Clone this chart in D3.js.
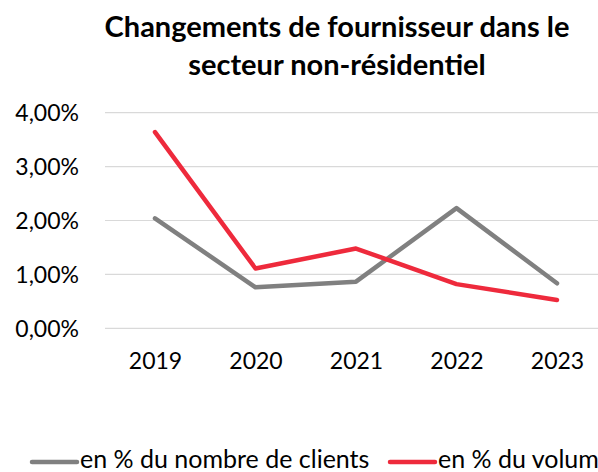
<!DOCTYPE html>
<html>
<head>
<meta charset="utf-8">
<script src="https://cdn.jsdelivr.net/npm/d3@7"></script>
<style>
  body { margin: 0; background: #fff; }
  svg { display: block; font-family: Lato, "Open Sans", sans-serif; }
</style>
</head>
<body>
<script>
// Data
var years = ["2019", "2020", "2021", "2022", "2023"];
var clients = [0.0204, 0.0076, 0.00865, 0.0223, 0.00835];
var volume = [0.0364, 0.0111, 0.0148, 0.0082, 0.00525];
var yTicks = [0, 0.01, 0.02, 0.03, 0.04];
var seriesNames = ["en % du nombre de clients", "en % du volume"];
var colors = ["#808080", "#ee2a3c"];

var width = 598, height = 472;

var svg = d3.select("body")
    .append("svg")
    .attr("width", width)
    .attr("height", height);

// scales
var xScale = d3.scalePoint()
    .domain(years)
    .range([155, 557]);

var yScale = d3.scaleLinear()
    .domain([0, 0.04])
    .range([328.3, 112.7]);

var fmt = function(d) { return d3.format(".2f")(d * 100).replace(".", ",") + "%"; };

// title
svg.append("text")
    .attr("x", 337)
    .attr("y", 37)
    .attr("text-anchor", "middle")
    .style("font-size", "29px")
    .style("font-weight", "bold")
    .text("Changements de fournisseur dans le");

svg.append("text")
    .attr("x", 337)
    .attr("y", 75)
    .attr("text-anchor", "middle")
    .style("font-size", "29px")
    .style("font-weight", "bold")
    .text("secteur non-résidentiel");

// gridlines
svg.append("g")
    .selectAll("line")
    .data(yTicks)
    .enter()
    .append("line")
    .attr("x1", 105)
    .attr("x2", 607)
    .attr("y1", function(d) { return yScale(d); })
    .attr("y2", function(d) { return yScale(d); })
    .attr("stroke", "#d9d9d9")
    .attr("stroke-width", 1.2);

// y axis
var yAxis = d3.axisLeft(yScale)
    .tickValues(yTicks)
    .tickSize(0)
    .tickPadding(0)
    .tickFormat(fmt);

svg.append("g")
    .attr("class", "axis")
    .attr("transform", "translate(79,0)")
    .call(yAxis)
    .call(function(g) { g.select(".domain").remove(); })
    .selectAll("text")
    .attr("dy", "0.35em")
    .style("font-family", "Lato, sans-serif")
    .style("font-size", "23px")
    .attr("fill", "#000");

// x axis
var xAxis = d3.axisBottom(xScale)
    .tickSize(0)
    .tickPadding(0);

svg.append("g")
    .attr("class", "axis")
    .attr("transform", "translate(0,353)")
    .call(xAxis)
    .call(function(g) { g.select(".domain").remove(); })
    .selectAll("text")
    .style("font-family", "Lato, sans-serif")
    .style("font-size", "23px")
    .attr("fill", "#000");

// lines
var line = d3.line()
    .x(function(d, i) { return xScale(years[i]); })
    .y(function(d) { return yScale(d); });

[clients, volume].forEach(function(s, i) {
  svg.append("path")
      .datum(s)
      .attr("d", line)
      .attr("fill", "none")
      .attr("stroke", colors[i])
      .attr("stroke-width", 4.5)
      .attr("stroke-linecap", "round")
      .attr("stroke-linejoin", "round");
});

// legend (the second entry runs past the right edge, as in the original)
var legendX = [32, 390];
var legend = svg.append("g");
seriesNames.forEach(function(name, i) {
  legend.append("line")
      .attr("x1", legendX[i])
      .attr("x2", legendX[i] + 45)
      .attr("y1", 462)
      .attr("y2", 462)
      .attr("stroke", colors[i])
      .attr("stroke-width", 4.5)
      .attr("stroke-linecap", "round");
  legend.append("text")
      .attr("x", legendX[i] + 48)
      .attr("y", 468)
      .style("font-size", "25px")
      .text(name);
});
</script>
</body>
</html>
